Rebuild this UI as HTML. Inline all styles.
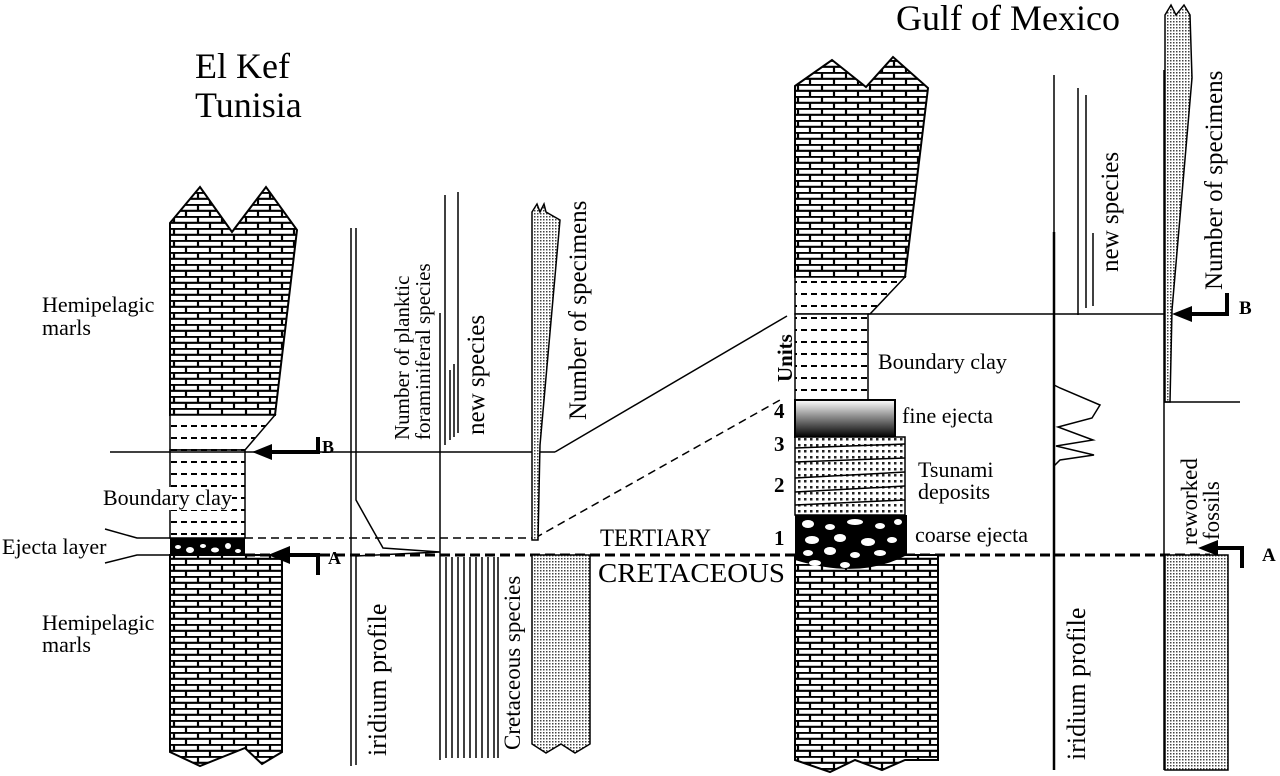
<!DOCTYPE html>
<html><head><meta charset="utf-8"><style>
html,body{margin:0;padding:0;background:#fff}
svg{display:block}
text{font-family:"Liberation Serif",serif;fill:#000}
</style></head><body>
<svg width="1280" height="776" viewBox="0 0 1280 776" xmlns="http://www.w3.org/2000/svg">
<defs>
<pattern id="brick" width="24" height="12" patternUnits="userSpaceOnUse">
<rect width="24" height="12" fill="#fff"/>
<path d="M0 0.8H24M0 6.8H24M6 0V6.8M18 6.8V12" stroke="#000" stroke-width="2.2" fill="none"/>
</pattern>
<pattern id="dash" width="10" height="12" patternUnits="userSpaceOnUse">
<rect width="10" height="12" fill="#fff"/>
<path d="M1 6H7" stroke="#000" stroke-width="2"/>
</pattern>
<pattern id="dot" width="3" height="3" patternUnits="userSpaceOnUse">
<rect width="3" height="3" fill="#fff"/>
<rect x="0" y="0" width="1.5" height="1.5" fill="#444"/>
</pattern>
<pattern id="tsu" width="6" height="6" patternUnits="userSpaceOnUse">
<rect width="6" height="6" fill="#fff"/>
<rect x="0" y="0" width="2.5" height="2.5" fill="#222"/>
</pattern>
<linearGradient id="grad" x1="0" y1="0" x2="0" y2="1">
<stop offset="0" stop-color="#fff"/><stop offset="1" stop-color="#000"/>
</linearGradient>
</defs>

<text x="195" y="78" font-size="36">El Kef</text>
<text x="195" y="117" font-size="36">Tunisia</text>
<text x="1008" y="30" font-size="36" text-anchor="middle">Gulf of Mexico</text>

<!-- El Kef column -->
<polygon points="170,223 200,187 232,232 266,187 297,230 275,415 170,415" fill="url(#brick)" stroke="#000" stroke-width="2"/>
<polygon points="170,415 275,415 245,450 170,450" fill="url(#dash)" stroke="#000" stroke-width="1.5"/>
<rect x="170" y="450" width="75" height="88" fill="url(#dash)" stroke="#000" stroke-width="1.5"/>
<rect x="170" y="538" width="75" height="17" fill="#000"/>
<g fill="#fff"><ellipse cx="178" cy="547" rx="3" ry="2"/><ellipse cx="190" cy="550" rx="4" ry="3"/><ellipse cx="203" cy="546" rx="3" ry="2"/><ellipse cx="215" cy="550" rx="4" ry="2.5"/><ellipse cx="228" cy="546" rx="3" ry="3"/><ellipse cx="238" cy="551" rx="3" ry="2"/></g>
<polygon points="170,555 282,555 282,752 262,764 245,748 200,766 170,752" fill="url(#brick)" stroke="#000" stroke-width="2"/>

<text x="42" y="312" font-size="22">Hemipelagic</text>
<text x="42" y="335" font-size="22">marls</text>
<rect x="101" y="487" width="131" height="23" fill="#fff"/>
<text x="103" y="505" font-size="22">Boundary clay</text>
<text x="2" y="554" font-size="22">Ejecta layer</text>
<text x="42" y="630" font-size="22">Hemipelagic</text>
<text x="42" y="652" font-size="22">marls</text>

<polyline points="105,529 137,538 170,538" fill="none" stroke="#000" stroke-width="1.5"/>
<polyline points="105,563 137,555 170,555" fill="none" stroke="#000" stroke-width="1.5"/>

<line x1="110" y1="452" x2="555" y2="452" stroke="#000" stroke-width="1.5"/>
<line x1="555" y1="452" x2="787" y2="316" stroke="#000" stroke-width="1.5"/>
<line x1="245" y1="538" x2="535" y2="538" stroke="#000" stroke-width="1.5" stroke-dasharray="8,5"/>
<line x1="535" y1="538" x2="780" y2="400" stroke="#000" stroke-width="1.5" stroke-dasharray="8,5"/>
<line x1="245" y1="555" x2="1210" y2="555" stroke="#000" stroke-width="3" stroke-dasharray="10,5"/>

<polygon points="252,452 272,444 272,460" fill="#000"/>
<line x1="270" y1="452" x2="318" y2="452" stroke="#000" stroke-width="4"/>
<line x1="318" y1="437" x2="318" y2="454" stroke="#000" stroke-width="4"/>
<text x="322" y="453" font-size="18" font-weight="bold">B</text>
<polygon points="268,555 290,546 290,564" fill="#000"/>
<line x1="288" y1="555" x2="318" y2="555" stroke="#000" stroke-width="4"/>
<line x1="318" y1="553" x2="318" y2="575" stroke="#000" stroke-width="4"/>
<text x="328" y="564" font-size="18" font-weight="bold">A</text>

<line x1="351" y1="228" x2="351" y2="766" stroke="#000" stroke-width="1.5"/>
<polyline points="356,228 356,500 370,525 383,548 440,552 356,556 356,765" fill="none" stroke="#000" stroke-width="1.5"/>
<text transform="translate(386,756) rotate(-90)" font-size="26">iridium profile</text>

<line x1="440" y1="313" x2="440" y2="760" stroke="#000" stroke-width="1.5"/>
<line x1="445" y1="195" x2="445" y2="445" stroke="#000" stroke-width="1.5"/>
<line x1="458" y1="192" x2="458" y2="433" stroke="#000" stroke-width="1.5"/>
<line x1="450" y1="370" x2="450" y2="440" stroke="#000" stroke-width="1.5"/>
<line x1="454" y1="364" x2="454" y2="437" stroke="#000" stroke-width="1.5"/>
<g stroke="#000" stroke-width="1.5">
<line x1="446" y1="557" x2="446" y2="758"/><line x1="452" y1="557" x2="452" y2="758"/><line x1="458" y1="557" x2="458" y2="758"/><line x1="464" y1="557" x2="464" y2="758"/><line x1="470" y1="557" x2="470" y2="758"/><line x1="476" y1="557" x2="476" y2="758"/><line x1="482" y1="557" x2="482" y2="758"/><line x1="488" y1="557" x2="488" y2="758"/><line x1="494" y1="557" x2="494" y2="758"/><line x1="498" y1="557" x2="498" y2="758"/>
</g>
<text transform="translate(409,440) rotate(-90)" font-size="21">Number of planktic</text>
<text transform="translate(430,440) rotate(-90)" font-size="21">foraminiferal  species</text>
<text transform="translate(484,435) rotate(-90)" font-size="25">new species</text>
<text transform="translate(520,750) rotate(-90)" font-size="23">Cretaceous species</text>

<polygon points="532,212 537,204 540,212 544,204 546,212 560,220 540,445 538,540 532,540" fill="url(#dot)" stroke="#000" stroke-width="1.5"/>
<polygon points="532,555 590,555 590,744 575,753 561,744 546,753 532,744" fill="url(#dot)" stroke="#000" stroke-width="1.5"/>
<text transform="translate(586,420) rotate(-90)" font-size="25">Number of specimens</text>

<text x="600" y="546" font-size="25" textLength="111" lengthAdjust="spacingAndGlyphs">TERTIARY</text>
<text x="598" y="582" font-size="27" textLength="187" lengthAdjust="spacingAndGlyphs">CRETACEOUS</text>

<!-- Gulf column -->
<polygon points="795,86 832,60 866,87 893,57 928,88 905,277 795,277" fill="url(#brick)" stroke="#000" stroke-width="2"/>
<polygon points="795,277 905,277 870,314 795,314" fill="url(#dash)" stroke="#000" stroke-width="1.5"/>
<rect x="795" y="314" width="73" height="86" fill="url(#dash)" stroke="#000" stroke-width="1.5"/>
<rect x="795" y="400" width="100" height="37" fill="url(#grad)" stroke="#000" stroke-width="2"/>
<rect x="795" y="437" width="110" height="78" fill="url(#tsu)" stroke="#000" stroke-width="1.5"/>
<g stroke="#000" stroke-width="1.5" fill="none"><path d="M795 448 L905 444"/><path d="M795 462 L905 458"/><path d="M795 478 L905 472"/><path d="M795 492 L905 486"/><path d="M795 505 L905 500"/></g>
<polygon points="933,555 938,555 938,760 905,760 882,770 855,760 830,772 795,760 795,555" fill="url(#brick)" stroke="#000" stroke-width="2"/>
<path d="M795 515 H907 V555 Q860 580 795 560 Z" fill="#000"/>
<g fill="#fff">
<ellipse cx="808" cy="524" rx="6" ry="4"/><ellipse cx="830" cy="527" rx="5" ry="3"/><ellipse cx="855" cy="522" rx="8" ry="3"/><ellipse cx="880" cy="526" rx="5" ry="3"/><ellipse cx="898" cy="522" rx="4" ry="3"/>
<ellipse cx="812" cy="540" rx="7" ry="4"/><ellipse cx="840" cy="538" rx="6" ry="4"/><ellipse cx="868" cy="542" rx="7" ry="4"/><ellipse cx="892" cy="540" rx="5" ry="3"/>
<ellipse cx="808" cy="553" rx="5" ry="3"/><ellipse cx="830" cy="551" rx="6" ry="4"/><ellipse cx="855" cy="555" rx="5" ry="3"/><ellipse cx="880" cy="553" rx="6" ry="3"/>
<ellipse cx="815" cy="563" rx="6" ry="3"/><ellipse cx="845" cy="565" rx="5" ry="3"/>
</g>
<text x="774" y="418" font-size="21" font-weight="bold">4</text>
<text x="774" y="451" font-size="21" font-weight="bold">3</text>
<text x="774" y="492" font-size="21" font-weight="bold">2</text>
<text x="774" y="545" font-size="21" font-weight="bold">1</text>
<text transform="translate(792,382) rotate(-90)" font-size="21" font-weight="bold">Units</text>
<text x="878" y="369" font-size="22">Boundary clay</text>
<text x="902" y="423" font-size="22">fine ejecta</text>
<text x="918" y="477" font-size="22">Tsunami</text>
<text x="918" y="499" font-size="22">deposits</text>
<text x="915" y="542" font-size="22">coarse ejecta</text>

<line x1="868" y1="314" x2="1172" y2="314" stroke="#000" stroke-width="1.5"/>

<line x1="1054" y1="75" x2="1054" y2="232" stroke="#000" stroke-width="1.5"/>
<line x1="1054" y1="232" x2="1054" y2="770" stroke="#000" stroke-width="2.5"/>
<polyline points="1054,385 1060,388 1100,405 1092,418 1058,427 1093,440 1056,446 1094,455 1060,460 1054,466" fill="none" stroke="#000" stroke-width="1.5"/>
<text transform="translate(1085,760) rotate(-90)" font-size="26">iridium profile</text>

<line x1="1078" y1="88" x2="1078" y2="315" stroke="#000" stroke-width="1.5"/>
<line x1="1086" y1="95" x2="1086" y2="308" stroke="#000" stroke-width="1.5"/>
<line x1="1093" y1="233" x2="1093" y2="306" stroke="#000" stroke-width="1.5"/>
<text transform="translate(1118,272) rotate(-90)" font-size="25">new species</text>

<polygon points="1165,15 1171,5 1176,15 1184,5 1190,15 1192,78 1172,310 1170,402 1165,402" fill="url(#dot)" stroke="#000" stroke-width="1.5"/>
<line x1="1164" y1="70" x2="1164" y2="770" stroke="#000" stroke-width="1.5"/>
<line x1="1164" y1="402" x2="1240" y2="402" stroke="#000" stroke-width="1.5"/>
<rect x="1165" y="555" width="63" height="215" fill="url(#dot)" stroke="#000" stroke-width="1.5"/>
<text transform="translate(1222,290) rotate(-90)" font-size="25">Number of specimens</text>
<text transform="translate(1197,545) rotate(-90)" font-size="23">reworked</text>
<text transform="translate(1219,540) rotate(-90)" font-size="23">fossils</text>

<polygon points="1172,314 1192,306 1192,322" fill="#000"/>
<line x1="1190" y1="314" x2="1227" y2="314" stroke="#000" stroke-width="4"/>
<line x1="1227" y1="293" x2="1227" y2="316" stroke="#000" stroke-width="4"/>
<text x="1239" y="314" font-size="19" font-weight="bold">B</text>
<polygon points="1198,548 1218,540 1218,556" fill="#000"/>
<line x1="1216" y1="548" x2="1242" y2="548" stroke="#000" stroke-width="4"/>
<line x1="1242" y1="546" x2="1242" y2="568" stroke="#000" stroke-width="4"/>
<text x="1262" y="561" font-size="19" font-weight="bold">A</text>
</svg>
</body></html>
